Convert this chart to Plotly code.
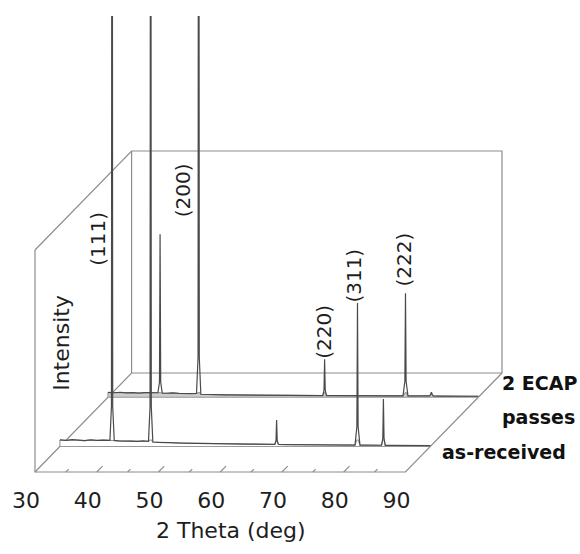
import plotly.graph_objects as go

# ---------------- data ----------------
tick_values = [30, 40, 50, 60, 70, 80, 90]
tick_labels = ["30", "40", "50", "60", "70", "80", "90"]
minor_ticks = [35, 45, 55, 65, 75, 85]

sample_names = ["as-received", "2 ECAP passes"]

# 2-theta grid (deg) shared by both patterns
two_theta = [30.0, 31.0, 32.0, 33.0, 34.0, 35.0, 36.0, 37.0, 38.1, 38.35, 38.45, 38.55, 38.8,
             39.5, 40.5, 41.5, 42.5, 43.5, 44.35, 44.6, 44.7, 44.8, 45.05, 46.0, 47.0, 48.0,
             49.0, 50.0, 52.0, 54.0, 56.0, 58.0, 60.0, 62.0, 64.0, 64.8, 65.0, 65.1, 65.2,
             65.4, 66.5, 68.0, 70.0, 72.0, 74.0, 76.0, 77.8, 78.1, 78.2, 78.3, 78.6, 79.5,
             80.5, 81.5, 82.1, 82.3, 82.4, 82.5, 82.7, 83.5, 85.0, 87.0, 89.0, 90.0]

# intensity (a.u.) - as-received
int_as_received = [6.5, 6.0, 6.8, 6.1, 5.8, 6.6, 6.0, 6.4, 6.2, 40, 1000, 40, 6.0,
                   5.6, 5.3, 5.7, 5.1, 5.5, 5.2, 40, 1000, 40, 4.4, 4.0, 3.7, 3.9,
                   3.5, 3.4, 3.0, 3.1, 2.7, 2.6, 2.4, 2.2, 2.1, 2.0, 5.5, 26.5, 5.5,
                   2.0, 1.9, 1.8, 1.8, 1.6, 1.5, 1.5, 1.4, 20, 143.5, 20, 1.4, 1.3,
                   1.2, 1.2, 1.2, 8, 47.5, 8, 1.1, 1.1, 1.0, 1.0, 0.9, 0.8]

# intensity (a.u.) - 2 ECAP passes
int_ecap2 = [4.8, 4.5, 5.0, 4.4, 4.7, 4.2, 4.6, 4.3, 4.5, 15, 163, 15, 4.2,
             4.0, 4.3, 3.8, 4.1, 3.7, 3.9, 40, 1000, 40, 3.0, 2.7, 2.6, 2.5,
             2.4, 2.3, 2.2, 2.1, 2.0, 1.9, 1.9, 1.8, 1.7, 1.7, 7, 38, 7,
             1.7, 1.6, 1.6, 1.5, 1.5, 1.4, 1.4, 1.4, 16, 104, 16, 1.4, 1.3,
             1.3, 1.3, 1.3, 3, 5, 3, 1.3, 1.2, 1.2, 1.1, 1.1, 1.0]

peak_labels = ["(111)", "(200)", "(220)", "(311)", "(222)"]

# ---------------- projection / style ----------------
DEG_PX = 6.2            # px per degree on the front face
DX = 97 / DEG_PX        # depth shift along x (deg) for full depth
DY = 99.0               # depth shift along y (units) for full depth
BOX_H = 222.0
TT0, TT1 = 30, 90
sample_depth = [0.258, 0.755]
BOX_COLOR = "#8c8c8c"
LINE_COLOR = "#4a4a4a"
FONT = "DejaVu Sans"


def proj(tt, d, inten):
    return tt + DX * d, inten + DY * d


def poly(points):
    xs, ys = [], []
    for p in points:
        if p is None:
            xs.append(None)
            ys.append(None)
        else:
            x, y = proj(*p)
            xs.append(x)
            ys.append(y)
    return xs, ys


fig = go.Figure()

# box edges
box_segments = [
    (TT0, 0, BOX_H), (TT0, 0, 0), (TT1, 0, 0), (TT1, 1, 0), None,
    (TT0, 0, BOX_H), (TT0, 1, BOX_H), (TT1, 1, BOX_H), (TT1, 1, 0), (TT0, 1, 0), (TT0, 0, 0), None,
    (TT0, 1, 0), (TT0, 1, BOX_H),
]
bx, by = poly(box_segments)
fig.add_trace(go.Scatter(x=bx, y=by, mode="lines", line=dict(color=BOX_COLOR, width=1.2),
                         hoverinfo="skip", showlegend=False))

# ticks on front edge
tick_pts = []
for t in tick_values[1:-1]:
    tick_pts += [(t, 0, 0), (t, 0.06, 0), None]
for t in minor_ticks:
    tick_pts += [(t, 0, 0), (t, 0.03, 0), None]
tx, ty = poly(tick_pts)
fig.add_trace(go.Scatter(x=tx, y=ty, mode="lines", line=dict(color=BOX_COLOR, width=1.1),
                         hoverinfo="skip", showlegend=False))

# patterns: back first
series = [int_as_received, int_ecap2]
ribbon_fill = ["white", "#cdcdcd"]
for idx in [1, 0]:
    d = sample_depth[idx]
    vals = series[idx]
    cap = vals[0]
    top = [(t, d, min(v, cap)) for t, v in zip(two_theta, vals)]
    ribbon = top + [(TT1, d, 0), (TT0, d, 0), (TT0, d, vals[0])]
    rx, ry = poly(ribbon)
    fig.add_trace(go.Scatter(x=rx, y=ry, mode="lines", fill="toself", fillcolor=ribbon_fill[idx],
                             line=dict(color="#999999", width=1.1), hoverinfo="skip", showlegend=False))
    sx, sy = poly([(t, d, v) for t, v in zip(two_theta, vals)])
    fig.add_trace(go.Scatter(x=sx, y=sy, mode="lines", name=sample_names[idx],
                             line=dict(color=LINE_COLOR, width=1.2), showlegend=False))

# peak labels (positions in projected plot units)
label_pos = [(40.16, 233), (54.03, 282), (76.77, 140), (81.61, 196), (89.84, 213)]
for lab, (lx, ly) in zip(peak_labels, label_pos):
    fig.add_annotation(x=lx, y=ly, text=lab, textangle=-90, showarrow=False,
                       xanchor="center", yanchor="middle",
                       font=dict(family=FONT, size=20, color="#1e1e1e"))

# axis texts
fig.add_annotation(x=34.19, y=129, text="Intensity", textangle=-90, showarrow=False,
                   xanchor="center", yanchor="middle",
                   font=dict(family=FONT, size=22, color="#1e1e1e"))
fig.add_annotation(x=61.77, xref="x", y=-0.1223, yref="paper", text="2 Theta (deg)",
                   xanchor="center", yanchor="middle",
                   showarrow=False, font=dict(family=FONT, size=22, color="#1e1e1e"))

# sample names
fig.add_annotation(x=105.3, y=89, text="<b>2 ECAP</b>", xanchor="left", yanchor="middle",
                   showarrow=False, font=dict(family=FONT, size=19, color="#111111"))
fig.add_annotation(x=105.3, y=55, text="<b>passes</b>", xanchor="left", yanchor="middle",
                   showarrow=False, font=dict(family=FONT, size=19, color="#111111"))
fig.add_annotation(x=95.6, y=20, text="<b>as-received</b>", xanchor="left", yanchor="middle",
                   showarrow=False, font=dict(family=FONT, size=19, color="#111111"))

fig.update_xaxes(range=[30 - 2 / DEG_PX, 30 + 470 / DEG_PX], tickvals=tick_values, ticktext=tick_labels,
                 showgrid=False, zeroline=False, showline=False, ticks="",
                 ticklabelshift=-9, ticklabelstandoff=11,
                 tickfont=dict(family=FONT, size=22, color="#1e1e1e"), fixedrange=True)
fig.update_yaxes(range=[-2, 456], visible=False, showgrid=False, zeroline=False, fixedrange=True)

fig.update_layout(width=580, height=554, margin=dict(l=31, r=77, t=16, b=80),
                  paper_bgcolor="white", plot_bgcolor="white", showlegend=False)

fig.write_html("out.html", config={"displayModeBar": False, "staticPlot": True},
               post_script="document.body.style.margin='0';document.body.style.overflow='hidden';")
